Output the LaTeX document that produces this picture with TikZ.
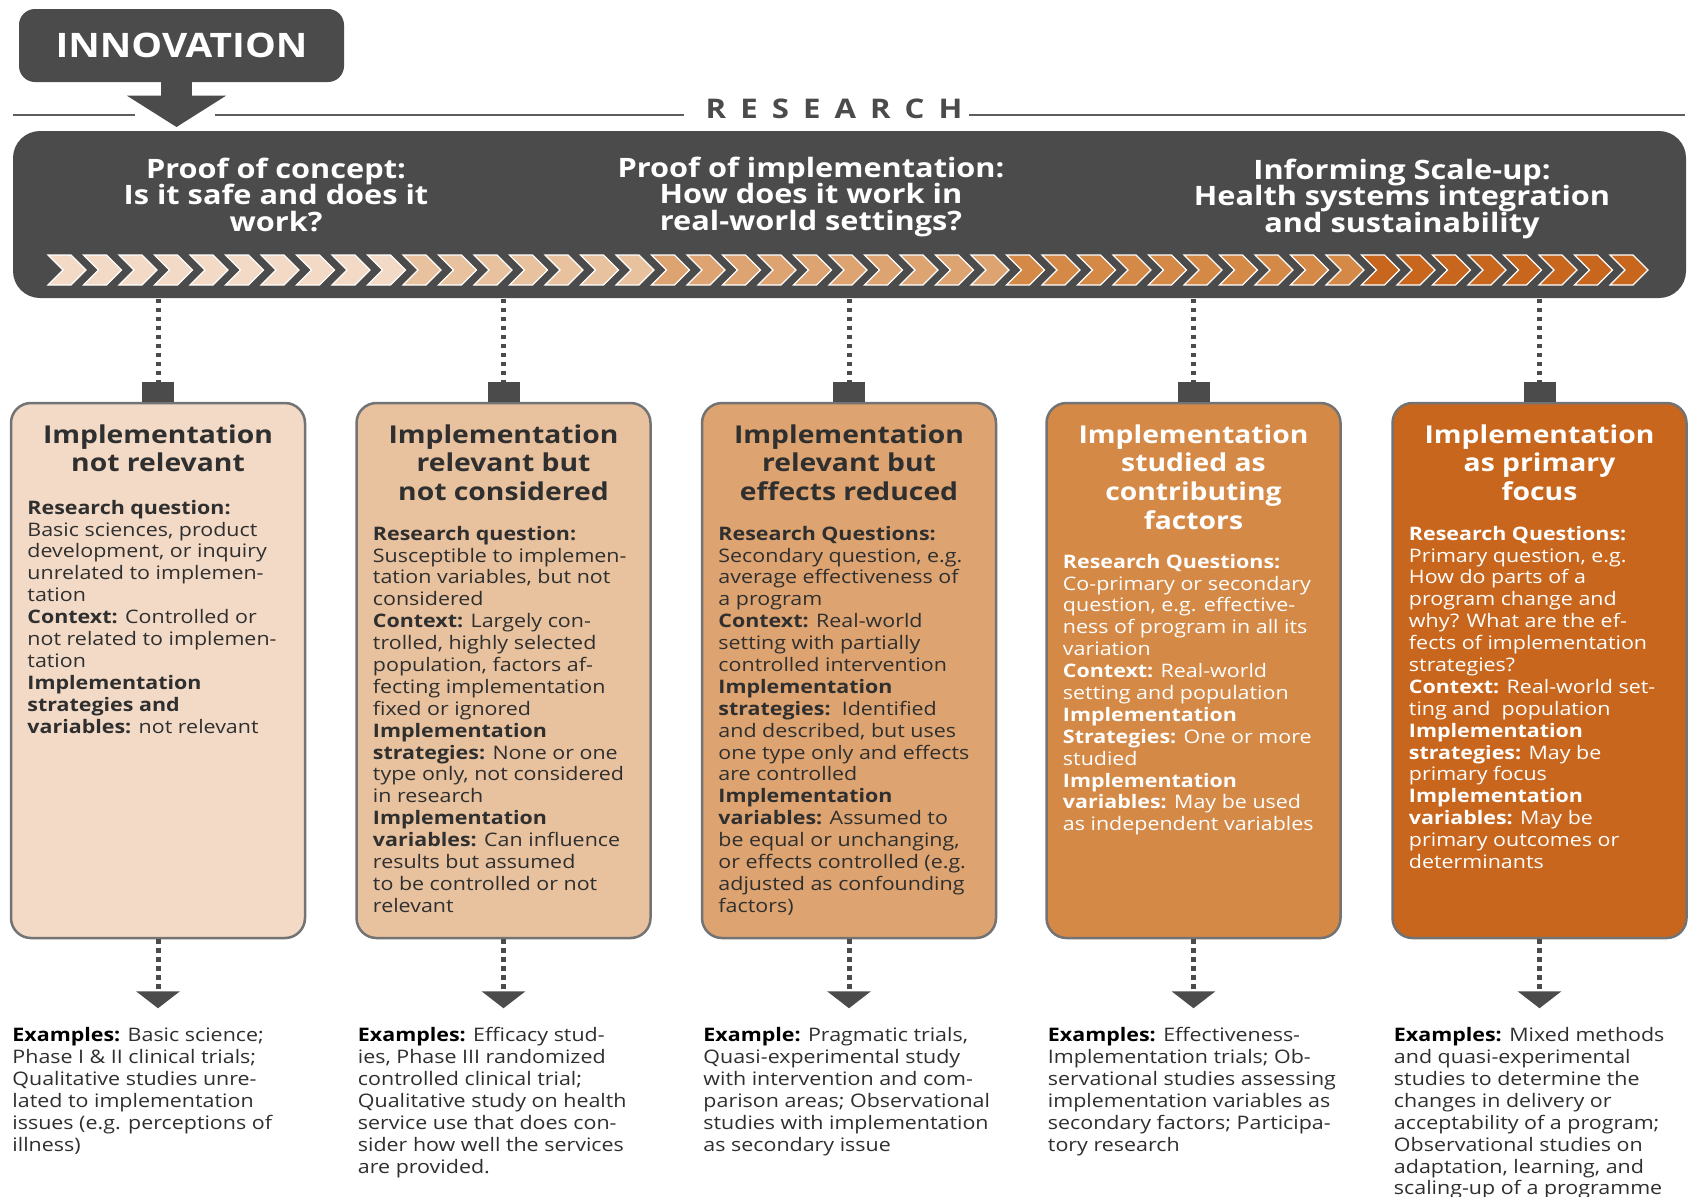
\documentclass[tikz,border=0pt]{standalone}
\usepackage{fontspec}
\setmainfont{Open Sans}[FakeStretch=1.15]
\newfontfamily\spacedfont{Open Sans}[FakeStretch=1.15,LetterSpace=52]
\usetikzlibrary{arrows.meta,positioning,calc}

\definecolor{ink}{HTML}{4B4B4B}
\definecolor{txt}{HTML}{2F2F2F}
\definecolor{stageA}{HTML}{F2DAC6}
\definecolor{stageB}{HTML}{E8C29E}
\definecolor{stageC}{HTML}{DDA471}
\definecolor{stageD}{HTML}{D58947}
\definecolor{stageE}{HTML}{C8661E}

% tight bold font for the three phase headings
\newcommand{\phasefont}{\bfseries\fontsize{7.6pt}{7.55pt}\selectfont\lineskiplimit=-4pt\relax}
% one chevron of the strip: #1 = index, #2 = fill colour
\newcommand{\chevron}[2]{\filldraw[chevfill, fill=#2] ({48+35.5*#1},255) -- ++(23,0) -- ++(15,15) -- ++(-15,15) -- ++(-23,0) -- ++(15,-15) -- cycle;}

\begin{document}
\begin{tikzpicture}[x=0.1mm, y=-0.1mm,
	stagebox/.style={draw=black!55, line width=0.25mm, rounded corners=2mm, minimum width=29.4mm, minimum height=53.5mm, inner sep=0pt},
	tabbox/.style={fill=ink, minimum width=3.2mm, minimum height=2mm, inner sep=0pt, outer sep=0pt},
	dotline/.style={draw=ink, line width=0.5mm, dash pattern=on 0.45mm off 0.45mm},
	stagetitle/.style={font=\bfseries\fontsize{7pt}{8.2pt}\selectfont, align=center, inner sep=0pt, anchor=north},
	stagetext/.style={font=\fontsize{5.3pt}{6.23pt}\selectfont, align=left, inner sep=0pt, anchor=north west},
	phasetext/.style={font=\phasefont, text=white, align=center, inner sep=0pt, anchor=north},
	chevfill/.style={draw=white, line width=0.12mm},
	rule/.style={draw=ink!90, line width=0.2mm}]

	\fill[white] (0,0) rectangle (1688,1196);
	\useasboundingbox (0,0) rectangle (1688,1196);

	% innovation label and its arrow
	\node[fill=ink, rounded corners=1.6mm, minimum width=32.5mm, minimum height=7.3mm, text=white,
		font=\bfseries\fontsize{9.6pt}{10pt}\selectfont] (innov) at (181.5,45.5) {INNOVATION};
	\coordinate (drop) at (176.5,127);
	\fill[ink] ($(innov.south -| drop)+(-15.5,-2)$) rectangle ($(innov.south -| drop)+(15.5,14)$);
	\fill[ink] ($(innov.south -| drop)+(-49.5,13)$) -- ($(innov.south -| drop)+(49.5,13)$) -- (drop) -- cycle;

	% research rule
	\draw[rule] (13,115) -- (135,115);
	\draw[rule] (215,115) -- (684,115);
	\node[anchor=base west, inner sep=0pt, text=ink, font=\spacedfont\bfseries\fontsize{7.7pt}{8pt}\selectfont] (research) at (705,118) {RESEARCH};
	\draw[rule] (969,115) -- (1685,115);

	% dark bar with the three phases
	\node[fill=ink, rounded corners=2.7mm, minimum width=167.3mm, minimum height=16.7mm, inner sep=0pt] (bar) at (849.5,214.5) {};
	\node[phasetext] (ph1) at (276,157) {Proof of concept:\\Is it safe and does it\\work?};
	\node[phasetext] (ph2) at (811,156) {Proof of implementation:\\How does it work in\\real-world settings?};
	\node[phasetext] (ph3) at (1402,158) {Informing Scale-up:\\Health systems integration\\and sustainability};

	\foreach \i in {0,...,9} {\chevron{\i}{stageA}}
	\foreach \i in {10,...,16} {\chevron{\i}{stageB}}
	\foreach \i in {17,...,26} {\chevron{\i}{stageC}}
	\foreach \i in {27,...,36} {\chevron{\i}{stageD}}
	\foreach \i in {37,...,44} {\chevron{\i}{stageE}}

	% the five stages
	\node[stagebox, fill=stageA] (box1) at (158,670.5) {};
	\node[stagebox, fill=stageB] (box2) at (503.5,670.5) {};
	\node[stagebox, fill=stageC] (box3) at (849,670.5) {};
	\node[stagebox, fill=stageD] (box4) at (1193.5,670.5) {};
	\node[stagebox, fill=stageE] (box5) at (1539.5,670.5) {};

	\foreach \n in {1,...,5} {
		\node[tabbox, above=0pt of box\n] (tab\n) {};
		\draw[dotline] (tab\n.north |- bar.south) -- (tab\n.north);
		\coordinate[below=6.9mm of box\n.south] (tip\n);
		\draw[dotline, -{Triangle[width=4.3mm,length=1.7mm]}] (box\n.south) -- (tip\n);
	}

	\node[stagetitle, text=txt, below=2.2mm of box1.north] (t1) {Implementation\\not relevant};
	\node[stagetitle, text=txt, below=2.2mm of box2.north] (t2) {Implementation\\relevant but\\not considered};
	\node[stagetitle, text=txt, below=2.2mm of box3.north] (t3) {Implementation\\relevant but\\effects reduced};
	\node[stagetitle, text=white, below=2.2mm of box4.north] (t4) {Implementation\\studied as\\contributing\\factors};
	\node[stagetitle, text=white, below=2.2mm of box5.north] (t5) {Implementation\\as primary\\focus};

	\node[stagetext, text=txt, below=9.75mm of box1.north west, anchor=north west, xshift=1.7mm] (q1) {%
		\textbf{Research question:}\\
		Basic sciences, product\\
		development, or inquiry\\
		unrelated to implemen-\\
		tation\\
		\textbf{Context:} Controlled or\\
		not related to implemen-\\
		tation\\
		\textbf{Implementation}\\
		\textbf{strategies and}\\
		\textbf{variables:} not relevant};
	\node[stagetext, text=txt, below=12.35mm of box2.north west, anchor=north west, xshift=1.7mm] (q2) {%
		\textbf{Research question:}\\
		Susceptible to implemen-\\
		tation variables, but not\\
		considered\\
		\textbf{Context:} Largely con-\\
		trolled, highly selected\\
		population, factors af-\\
		fecting implementation\\
		fixed or ignored\\
		\textbf{Implementation}\\
		\textbf{strategies:} None or one\\
		type only, not considered\\
		in research\\
		\textbf{Implementation}\\
		\textbf{variables:} Can influence\\
		results but assumed\\
		to be controlled or not\\
		relevant};
	\node[stagetext, text=txt, below=12.35mm of box3.north west, anchor=north west, xshift=1.7mm] (q3) {%
		\textbf{Research Questions:}\\
		Secondary question, e.g.\\
		average effectiveness of\\
		a program\\
		\textbf{Context:} Real-world\\
		setting with partially\\
		controlled intervention\\
		\textbf{Implementation}\\
		\textbf{strategies:}\ \ Identified\\
		and described, but uses\\
		one type only and effects\\
		are controlled\\
		\textbf{Implementation}\\
		\textbf{variables:} Assumed to\\
		be equal or unchanging,\\
		or effects controlled (e.g.\\
		adjusted as confounding\\
		factors)};
	\node[stagetext, text=white, below=15.15mm of box4.north west, anchor=north west, xshift=1.7mm] (q4) {%
		\textbf{Research Questions:}\\
		Co-primary or secondary\\
		question, e.g. effective-\\
		ness of program in all its\\
		variation\\
		\textbf{Context:} Real-world\\
		setting and population\\
		\textbf{Implementation}\\
		\textbf{Strategies:} One or more\\
		studied\\
		\textbf{Implementation}\\
		\textbf{variables:} May be used\\
		as independent variables};
	\node[stagetext, text=white, below=12.35mm of box5.north west, anchor=north west, xshift=1.7mm] (q5) {%
		\textbf{Research Questions:}\\
		Primary question, e.g.\\
		How do parts of a\\
		program change and\\
		why? What are the ef-\\
		fects of implementation\\
		strategies?\\
		\textbf{Context:} Real-world set-\\
		ting and\ \ population\\
		\textbf{Implementation}\\
		\textbf{strategies:} May be\\
		primary focus\\
		\textbf{Implementation}\\
		\textbf{variables:} May be\\
		primary outcomes or\\
		determinants};

	% examples under each stage
	\node[stagetext, text=txt, below=8.75mm of box1.south west, anchor=north west, xshift=0.2mm] (ex1) {%
		\textbf{\color{black}Examples:} Basic science;\\
		Phase I \& II clinical trials;\\
		Qualitative studies unre-\\
		lated to implementation\\
		issues (e.g. perceptions of\\
		illness)};
	\node[stagetext, text=txt, below=8.75mm of box2.south west, anchor=north west, xshift=0.2mm] (ex2) {%
		\textbf{\color{black}Examples:} Efficacy stud-\\
		ies, Phase III randomized\\
		controlled clinical trial;\\
		Qualitative study on health\\
		service use that does con-\\
		sider how well the services\\
		are provided.};
	\node[stagetext, text=txt, below=8.75mm of box3.south west, anchor=north west, xshift=0.2mm] (ex3) {%
		\textbf{\color{black}Example:} Pragmatic trials,\\
		Quasi-experimental study\\
		with intervention and com-\\
		parison areas; Observational\\
		studies with implementation\\
		as secondary issue};
	\node[stagetext, text=txt, below=8.75mm of box4.south west, anchor=north west, xshift=0.2mm] (ex4) {%
		\textbf{\color{black}Examples:} Effectiveness-\\
		Implementation trials; Ob-\\
		servational studies assessing\\
		implementation variables as\\
		secondary factors; Participa-\\
		tory research};
	\node[stagetext, text=txt, below=8.75mm of box5.south west, anchor=north west, xshift=0.2mm] (ex5) {%
		\textbf{\color{black}Examples:} Mixed methods\\
		and quasi-experimental\\
		studies to determine the\\
		changes in delivery or\\
		acceptability of a program;\\
		Observational studies on\\
		adaptation, learning, and\\
		scaling-up of a programme};
\end{tikzpicture}
\end{document}
